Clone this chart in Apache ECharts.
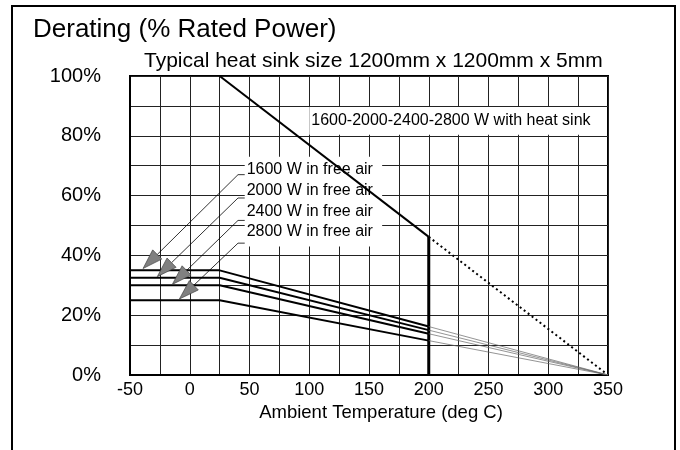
<!DOCTYPE html>
<html><head><meta charset="utf-8">
<script src="https://cdn.jsdelivr.net/npm/echarts@6/dist/echarts.min.js"></script>
<style>html,body{margin:0;padding:0;background:#fff}#c{width:680px;height:450px}</style>
</head><body><div id="c"></div>
<script>
const FONT = 'Liberation Sans, Arial, Helvetica, sans-serif';

// ---- data ----
const titleText = 'Derating (% Rated Power)';
const subtitleText = 'Typical heat sink size 1200mm x 1200mm x 5mm';
const xName = 'Ambient Temperature (deg C)';
const xMin = -50, xMax = 350, xStep = 25, xLabelStep = 50;
const yMin = 0, yMax = 100, yStep = 10, yLabelStep = 20;

const freeAirLabels = ['1600 W in free air', '2000 W in free air', '2400 W in free air', '2800 W in free air'];
const freeAirFlat = [35, 32.5, 30, 25];      // % rated power, -50..25 deg C
const freeAirAt200 = [16.2, 15.0, 13.8, 11.5]; // % at 200 deg C
const kneeT = 25;
const cutoffT = 200;
const zeroT = 350;

const heatSinkLabel = '1600-2000-2400-2800 W with heat sink';
const heatSinkStart = 100;   // % at knee
const heatSinkAt200 = 46.2;  // % at 200 deg C

// annotation geometry (data units)
const leaderStart = [[40.4, 67.0], [40.4, 59.2], [40.4, 51.7], [40.4, 44.1]];
const leaderTip = [[-39.1, 35.6], [-27.2, 32.9], [-14.6, 30.3], [-8.7, 25.4]];
const freeAirBox = {x0: 46, x1: 161, y0: 43, y1: 73};
const freeAirTextX = 47.6;
const freeAirTextY = [68.7, 61.8, 54.5, 47.8];
const heatSinkBox = {x0: 100, x1: 350, y0: 80, y1: 90};

// ---- chart ----
const chart = echarts.init(document.getElementById('c'), null, {renderer: 'canvas'});

const series = [];
series.push({type: 'line', data: [[kneeT, heatSinkStart], [cutoffT, heatSinkAt200]], symbol: 'none',
  lineStyle: {color: '#000', width: 2}, z: 3});
series.push({type: 'line', data: [[cutoffT, heatSinkAt200], [zeroT, 0]], symbol: 'none',
  lineStyle: {color: '#000', width: 2, type: [2, 3]}, z: 3});
series.push({type: 'line', data: [[cutoffT, 0], [cutoffT, heatSinkAt200]], symbol: 'none',
  lineStyle: {color: '#000', width: 3}, z: 3});
freeAirFlat.forEach((v, i) => {
  series.push({type: 'line', data: [[xMin, v], [kneeT, v], [cutoffT, freeAirAt200[i]]], symbol: 'none',
    lineStyle: {color: '#000', width: 2}, z: 3});
  series.push({type: 'line', data: [[cutoffT, freeAirAt200[i]], [zeroT, 0]], symbol: 'none',
    lineStyle: {color: '#666', width: 0.7}, z: 3});
});

const option = {
  animation: false,
  backgroundColor: '#fff',
  title: [
    {text: titleText, left: 33, top: 17, padding: 0,
      textStyle: {fontSize: 26, fontWeight: 'normal', color: '#000', fontFamily: FONT}},
    {text: subtitleText, left: 144, top: 51, padding: 0,
      textStyle: {fontSize: 21, fontWeight: 'normal', color: '#000', fontFamily: FONT}}
  ],
  grid: {left: 130, right: 72, top: 76, bottom: 75, show: true, borderColor: '#000', borderWidth: 2,
    containLabel: false, outerBoundsMode: 'none'},
  xAxis: {type: 'value', min: xMin, max: xMax, interval: xStep,
    name: xName, nameLocation: 'middle', nameGap: 27,
    nameTextStyle: {fontSize: 18.5, color: '#000', fontFamily: FONT, padding: [0, 0, 0, 24]},
    axisLine: {show: true, onZero: false, lineStyle: {color: '#000', width: 2}},
    axisTick: {show: false},
    axisLabel: {margin: 6, fontSize: 18, color: '#000', fontFamily: FONT,
      formatter: v => (v % xLabelStep === 0 ? String(v) : '')},
    splitLine: {show: true, lineStyle: {color: '#222', width: 1}}
  },
  yAxis: {type: 'value', min: yMin, max: yMax, interval: yStep,
    axisLine: {show: true, onZero: false, lineStyle: {color: '#000', width: 2}},
    axisTick: {show: false},
    axisLabel: {margin: 29, fontSize: 20, color: '#000', fontFamily: FONT,
      formatter: v => (v % yLabelStep === 0 ? v + '%' : '')},
    splitLine: {show: true, lineStyle: {color: '#222', width: 1}}
  },
  series: series
};
chart.setOption(option);

const P = (x, y) => chart.convertToPixel({xAxisIndex: 0, yAxisIndex: 0}, [x, y]);
const g = [];
// heat sink label box
{
  const a = P(heatSinkBox.x0, heatSinkBox.y1), b = P(heatSinkBox.x1, heatSinkBox.y0);
  g.push({type: 'rect', z: 1, silent: true,
    shape: {x: a[0], y: a[1] + 1, width: b[0] - a[0] - 1.5, height: b[1] - a[1] - 2},
    style: {fill: '#fff', stroke: null}});
  g.push({type: 'text', z: 1, silent: true, x: a[0] + 2, y: (a[1] + b[1]) / 2,
    style: {text: heatSinkLabel, font: '16px ' + FONT, fill: '#000',
      textAlign: 'left', align: 'left', textVerticalAlign: 'middle', verticalAlign: 'middle'}});
}
// free air label box
{
  const a = P(freeAirBox.x0, freeAirBox.y1), b = P(freeAirBox.x1, freeAirBox.y0);
  g.push({type: 'rect', z: 1, silent: true,
    shape: {x: a[0], y: a[1], width: b[0] - a[0], height: b[1] - a[1]},
    style: {fill: '#fff', stroke: null}});
  freeAirLabels.forEach((t, i) => {
    const p = P(freeAirTextX, freeAirTextY[i]);
    g.push({type: 'text', z: 1, silent: true, x: p[0], y: p[1],
      style: {text: t, font: '16px ' + FONT, fill: '#000',
        textAlign: 'left', align: 'left', textVerticalAlign: 'middle', verticalAlign: 'middle'}});
  });
}
// leaders with arrowheads
leaderStart.forEach((s, i) => {
  const S = P(s[0], s[1]);
  const H = P(freeAirBox.x0, s[1]);
  const T = P(leaderTip[i][0], leaderTip[i][1]);
  const dx = T[0] - S[0], dy = T[1] - S[1];
  const len = Math.hypot(dx, dy);
  const ux = dx / len, uy = dy / len;
  const L = 20, W = 6.5;
  const B = [T[0] - ux * L, T[1] - uy * L];
  const nx = -uy, ny = ux;
  g.push({type: 'polyline', z: 20, silent: true,
    shape: {points: [H, S, B]}, style: {stroke: '#000', lineWidth: 0.8, fill: null}});
  g.push({type: 'polygon', z: 21, silent: true,
    shape: {points: [T, [B[0] + nx * W, B[1] + ny * W], [B[0] - nx * W, B[1] - ny * W]]},
    style: {fill: '#808080', stroke: '#333', lineWidth: 0.6}});
});
// outer frame
g.push({type: 'rect', z: 100, silent: true, shape: {x: 12, y: 6, width: 663, height: 470},
  style: {fill: null, stroke: '#000', lineWidth: 2}});

chart.setOption({graphic: {elements: g}});
</script>
</body></html>
